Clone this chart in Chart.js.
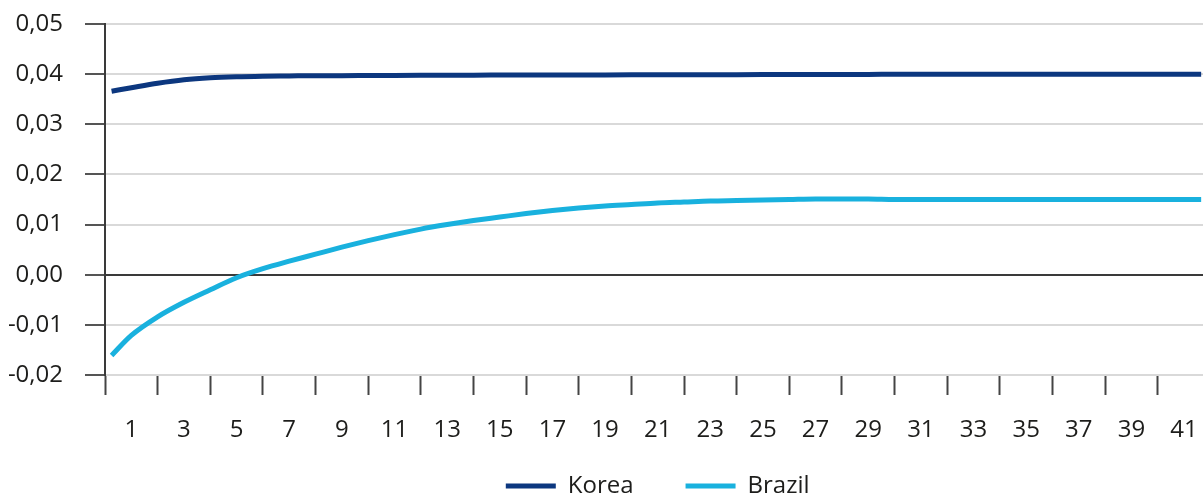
<!DOCTYPE html>
<html>
<head>
<meta charset="utf-8">
<script src="https://cdn.jsdelivr.net/npm/chart.js@4.4.1/dist/chart.umd.min.js"></script>
<style>
  html, body { margin: 0; padding: 0; background: #ffffff; overflow: hidden; }
  #wrap { position: relative; width: 1203px; height: 495px; overflow: hidden; }
  canvas { display: block; }
</style>
</head>
<body>
<div id="wrap"><canvas id="chart" width="1203" height="560"></canvas></div>
<script>
// ---- data ----
const seriesNames = ['Korea', 'Brazil'];
const horizon = [0.25, 1, 2, 3, 4, 5, 6, 7, 8, 9, 10, 11, 12, 13, 14, 15, 16, 17, 18, 19, 20,
  21, 22, 23, 24, 25, 26, 27, 28, 29, 30, 31, 32, 33, 34, 35, 36, 37, 38, 39, 40, 41, 41.65];
const korea = [0.0366, 0.0373, 0.0382, 0.0389, 0.0393, 0.0395, 0.0396, 0.03965, 0.0397, 0.0397,
  0.03972, 0.03974, 0.03976, 0.03978, 0.0398, 0.03981, 0.03982, 0.03983, 0.03984, 0.03985, 0.03986,
  0.03987, 0.03988, 0.03989, 0.0399, 0.03991, 0.03992, 0.03993, 0.03994, 0.03995, 0.03996,
  0.03997, 0.03998, 0.03999, 0.0400, 0.0400, 0.0400, 0.0400, 0.0400, 0.0400, 0.0400, 0.0400, 0.0400];
const brazil = [-0.0161, -0.0121, -0.0084, -0.0055, -0.0030, -0.0006, 0.0012, 0.0027, 0.0041, 0.0055,
  0.0068, 0.0080, 0.0091, 0.0100, 0.0108, 0.0115, 0.0122, 0.0128, 0.0133, 0.0137, 0.0140,
  0.0143, 0.0145, 0.0147, 0.0148, 0.0149, 0.0150, 0.0151, 0.0151, 0.0151, 0.0150,
  0.0150, 0.0150, 0.0150, 0.0150, 0.0150, 0.0150, 0.0150, 0.0150, 0.0150, 0.0150, 0.0150, 0.0150];
const xTickLabels = ['1', '3', '5', '7', '9', '11', '13', '15', '17', '19', '21',
  '23', '25', '27', '29', '31', '33', '35', '37', '39', '41'];
const yTickLabels = ['-0,02', '-0,01', '0,00', '0,01', '0,02', '0,03', '0,04', '0,05'];

// ---- styling ----
const FONT = { family: "'Open Sans', 'Noto Sans', sans-serif", size: 24 };
const TEXT = '#1d1d1b';
const AXIS_DARK = '#3a3a3a';
const GRID_LIGHT = '#d9d9d9';
const PLOT_BOTTOM = 375;
const LEGEND_CENTER_Y = 488;

const toPoints = (vals) => vals.map((v, i) => ({ x: horizon[i], y: v }));

const legendPlacer = {
  id: 'legendPlacer',
  afterLayout(chart) {
    const lg = chart.legend;
    const xs = chart.scales.x;
    const l = xs.getPixelForValue(0);
    const r = xs.getPixelForValue(42);
    lg.left = l; lg.right = r; lg.width = r - l;
    const pad = lg.options.labels.padding;
    const top = LEGEND_CENTER_Y - pad - 14;
    lg.top = top; lg.bottom = top + lg.height;
  }
};

new Chart(document.getElementById('chart'), {
  type: 'line',
  data: {
    datasets: [
      { label: seriesNames[0], data: toPoints(korea), borderColor: '#0c377f', backgroundColor: '#0c377f',
        borderWidth: 5, pointRadius: 0, cubicInterpolationMode: 'monotone', fill: false },
      { label: seriesNames[1], data: toPoints(brazil), borderColor: '#19b1de', backgroundColor: '#19b1de',
        borderWidth: 5, pointRadius: 0, cubicInterpolationMode: 'monotone', fill: false }
    ]
  },
  options: {
    responsive: false,
    animation: false,
    devicePixelRatio: 1,
    layout: { padding: { top: 24, right: 0, left: 0, bottom: 0 } },
    plugins: {
      tooltip: { enabled: false },
      legend: {
        position: 'bottom',
        align: 'center',
        labels: {
          boxWidth: 50,
          boxHeight: 5,
          padding: 52,
          color: TEXT,
          font: FONT,
          generateLabels(chart) {
            return chart.data.datasets.map((ds, i) => ({
              text: ds.label, fillStyle: ds.borderColor, strokeStyle: ds.borderColor,
              lineWidth: 0, hidden: false, datasetIndex: i, fontColor: TEXT
            }));
          }
        }
      }
    },
    scales: {
      x: {
        type: 'linear',
        min: 0,
        max: 41.72,
        afterFit(scale) {
          const ch = scale.chart;
          scale.height = ch.height - PLOT_BOTTOM - ch.legend.height;
          scale.paddingLeft = 0;
          scale.paddingRight = 0;
        },
        border: { display: false },
        grid: {
          drawOnChartArea: false,
          drawTicks: true,
          tickLength: 20,
          tickWidth: 2,
          tickColor: (ctx) => (ctx.tick && Number.isInteger(ctx.tick.value) && ctx.tick.value % 2 === 0) ? '#444444' : 'rgba(0,0,0,0)'
        },
        ticks: {
          stepSize: 1,
          autoSkip: false,
          maxRotation: 0,
          includeBounds: false,
          padding: 21,
          color: TEXT,
          font: FONT,
          callback: (value) => xTickLabels.includes(String(value)) ? String(value) : ''
        }
      },
      y: {
        min: -0.02,
        max: 0.05,
        afterFit(scale) {
          scale.width = 105;
          scale.paddingTop = 0;
          scale.paddingBottom = 0;
        },
        border: { display: true, color: AXIS_DARK, width: 2 },
        grid: {
          lineWidth: 2,
          color: (ctx) => (ctx.tick && Math.abs(ctx.tick.value) < 1e-9) ? AXIS_DARK : GRID_LIGHT,
          tickLength: 20,
          tickWidth: 2,
          tickColor: '#555555'
        },
        ticks: {
          stepSize: 0.01,
          padding: 22,
          color: TEXT,
          font: FONT,
          callback: (value) => {
            const idx = Math.round((value + 0.02) / 0.01);
            return yTickLabels[idx] !== undefined ? yTickLabels[idx] : '';
          }
        }
      }
    }
  },
  plugins: [legendPlacer]
});
</script>
</body>
</html>
